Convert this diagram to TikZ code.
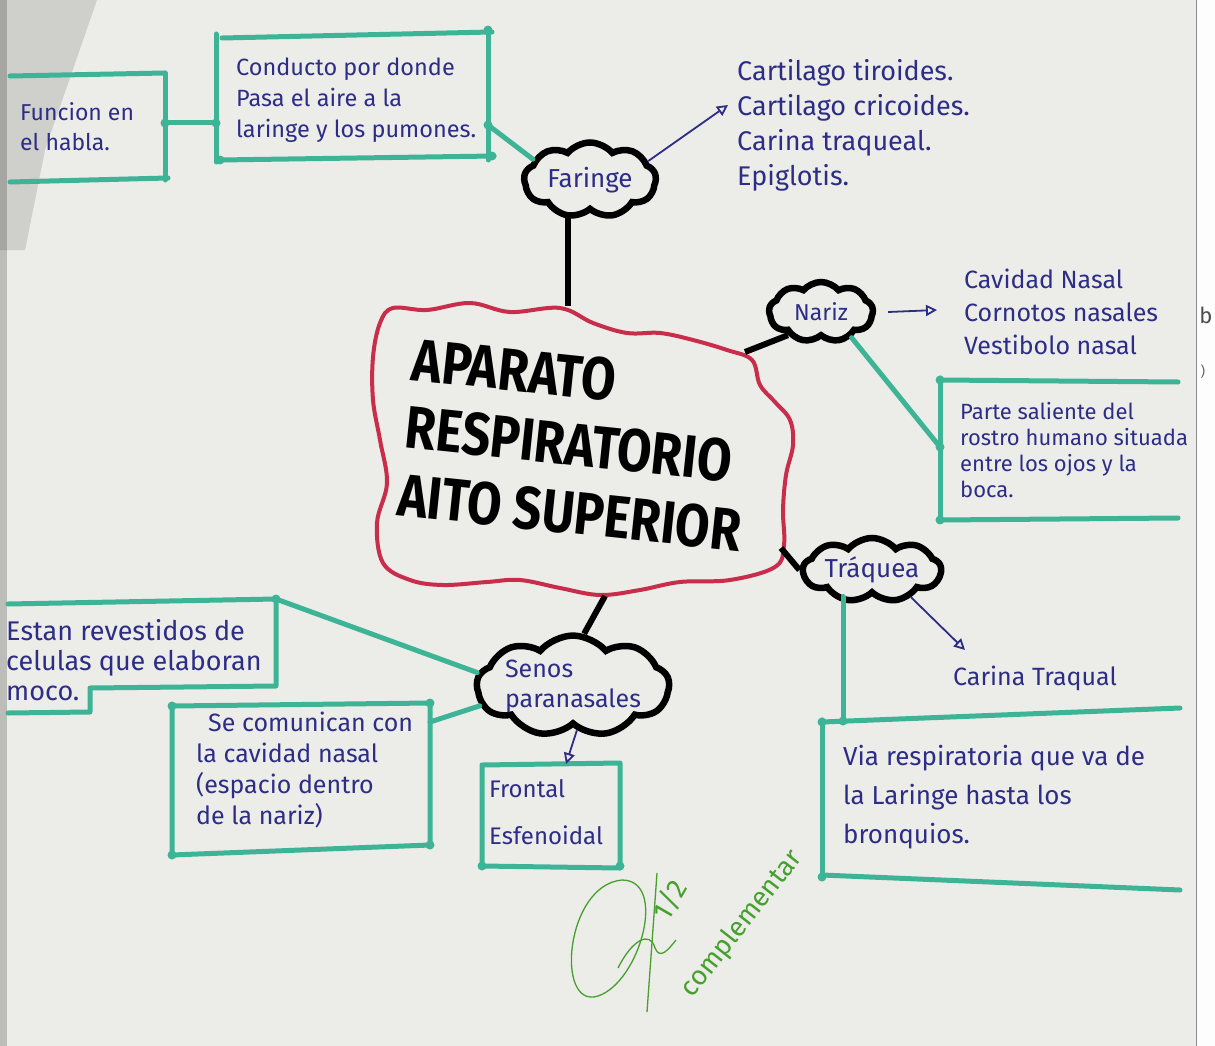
\documentclass[tikz,border=0pt]{standalone}
\usepackage{fontspec}
\usepackage{graphicx}
\setmainfont{Fira Sans}
\usetikzlibrary{shapes.symbols,arrows.meta}
\definecolor{paper}{RGB}{236,236,232}
\definecolor{tealm}{RGB}{62,180,150}
\definecolor{ink}{RGB}{45,45,135}
\definecolor{redm}{RGB}{200,45,75}
\definecolor{greenm}{RGB}{70,160,45}
\begin{document}
\begin{tikzpicture}[x=1pt,y=-1pt,
  tline/.style={draw=tealm,line width=5pt,line cap=round,line join=round},
  tdot/.style={fill=tealm},
  bcloud/.style={cloud,draw=black,line width=6.5pt,cloud puffs=9,cloud puff arc=100,cloud ignores aspect,inner sep=0pt,font=\fontsize{26}{30}\selectfont,text=ink},
  inkarrow/.style={draw=ink,line width=1.8pt,-{Triangle[open,length=11pt,width=11pt]}},
  blk/.style={draw=black,line width=6pt},
  itext/.style={text=ink,align=left,inner sep=0pt},
]
% background
\fill[paper] (0,0) rectangle (1215,1046);
\useasboundingbox (0,0) rectangle (1215,1046);
\fill[black,opacity=0.12] (0,0) -- (97,0) -- (45,150) -- (25,250) -- (0,250) -- cycle;
\fill[black,opacity=0.2] (0,0) rectangle (7,1046);
\fill[white!92!paper] (1196,0) rectangle (1215,1046);
\draw[black!45,line width=1pt] (1196,0) -- (1196,1046);
\node[font=\fontsize{22}{22}\selectfont,text=black!70] (bmark) at (1206,315) {b};
\node[font=\fontsize{14}{14}\selectfont,text=black!60] (pmark) at (1203,372) {)};

% central cloud
\draw[redm,line width=4pt] plot[smooth cycle,tension=0.6] coordinates {
(393,308) (427,310) (470,303) (510,312) (560,308) (593,323) (627,333) (660,333)
(693,340) (727,350) (752,360) (760,385) (775,402) (790,420) (793,445) (786,475)
(783,510) (784,545) (775,567) (730,580) (680,582) (640,590) (600,595) (560,588)
(520,580) (487,582) (443,585) (410,580) (383,563) (377,523) (387,483) (380,440)
(373,400) (373,357) (380,323)};
\node[font=\fontsize{50}{68}\selectfont\bfseries,align=left,rotate=-6,inner sep=0pt] (core) at (577,445)
  {\scalebox{1}[1.2]{APARATO}\\\scalebox{1}[1.2]{RESPIRATORIO}\\\scalebox{1}[1.2]{AITO SUPERIOR}};
\coordinate (cTop) at (568,306);
\coordinate (cNar) at (745,352);
\coordinate (cTra) at (781,548);
\coordinate (cSen) at (605,596);

% black clouds
\node[bcloud,minimum width=132pt,minimum height=75pt] (far) at (590,180) {Faringe};
\node[bcloud,minimum width=104pt,minimum height=60pt,font=\fontsize{23}{26}\selectfont] (nar) at (821,312) {Nariz};
\node[bcloud,minimum width=138pt,minimum height=64pt] (tra) at (872,570) {Tráquea};
\node[bcloud,minimum width=188pt,minimum height=84pt,align=left,font=\fontsize{25}{30}\selectfont] (sen) at (573,686) {Senos\\paranasales};

\draw[blk] (cTop) -- (cTop |- far.south);
\draw[blk] (cNar) -- (nar.215);
\draw[blk] (cTra) -- (tra.180);
\draw[blk] (cSen) -- (sen.78);

% Faringe branch
\coordinate (farTip) at (728,105);
\draw[inkarrow] (far.18) -- (farTip);
\node[itext,anchor=west,font=\fontsize{27}{35}\selectfont] (farlist) at (737,125)
  {Cartilago tiroides.\\Cartilago cricoides.\\Carina traqueal.\\Epiglotis.};

% box A
\draw[tline] (216,34) -- (216,162);
\draw[tline] (222,38) -- (492,32);
\draw[tline] (488,30) -- (488,160);
\draw[tline] (220,160) -- (494,156);
\node[itext,anchor=west,font=\fontsize{23.5}{31}\selectfont] (txtA) at (236,100)
  {Conducto por donde\\Pasa el aire a la\\laringe y los pumones.};
\coordinate (aR) at (488,125);
\draw[tline] (aR) -- (far.160);

% box B
\draw[tline] (10,76) -- (165,73);
\draw[tline] (165,73) -- (165,180);
\draw[tline] (10,182) -- (168,178);
\node[itext,anchor=west,font=\fontsize{23}{30}\selectfont] (txtB) at (20,127)
  {Funcion en\\el habla.};
\coordinate (bB) at (165,123);
\coordinate (bA) at (216,123);
\draw[tline] (bB) -- (bA);

% Nariz branch
\coordinate (narTip) at (937,310);
\draw[inkarrow] ([xshift=12pt]nar.east) -- (narTip);
\node[itext,anchor=west,font=\fontsize{25}{33}\selectfont] (narlist) at (964,312)
  {Cavidad Nasal\\Cornotos nasales\\Vestibolo nasal};
\draw[tline] (940,380) -- (1178,382);
\draw[tline] (940,378) -- (940,520);
\draw[tline] (940,520) -- (1178,518);
\coordinate (cL) at (940,447);
\draw[tline] (nar.-40) -- (cL);
\node[itext,anchor=west,font=\fontsize{22}{26}\selectfont] (txtC) at (960,450)
  {Parte saliente del\\rostro humano situada\\entre los ojos y la\\boca.};

% Traquea branch
\coordinate (traTip) at (965,650);
\draw[inkarrow] (tra.-35) -- (traTip);
\node[itext,font=\fontsize{25}{28}\selectfont] (tralist) at (1035,678) {Carina Traqual};
\draw[tline] (822,722) -- (1180,708);
\draw[tline] (822,720) -- (822,877);
\draw[tline] (822,875) -- (1180,890);
\coordinate (dT) at (843,721);
\draw[tline] (dT |- tra.south) -- (dT);
\node[itext,anchor=west,font=\fontsize{26}{39}\selectfont] (txtD) at (843,797)
  {Via respiratoria que va de\\la Laringe hasta los\\bronquios.};

% Senos branch
\draw[tline] (8,604) -- (276,599) -- (276,686) -- (90,688) -- (90,712) -- (8,713);
\coordinate (eR) at (276,599);
\draw[tline] (sen.172) -- (eR);
\node[itext,anchor=west,font=\fontsize{27}{30}\selectfont] (txtE) at (6,660)
  {Estan revestidos de\\celulas que elaboran\\moco.};
\draw[tline] (172,706) -- (430,703) -- (430,845) -- (172,855) -- cycle;
\coordinate (fR) at (430,722);
\draw[tline] (sen.192) -- (fR);
\node[itext,anchor=west,font=\fontsize{25}{31}\selectfont] (txtF) at (196,770)
  {\hspace*{12pt}Se comunican con\\la cavidad nasal\\(espacio dentro\\de la nariz)};
\draw[tline] (482,765) -- (620,763) -- (620,868) -- (482,866) -- cycle;
\coordinate (gT) at (566,764);
\draw[inkarrow] (sen.-85) -- (gT);
\node[itext,anchor=west,font=\fontsize{24}{47}\selectfont] (txtG) at (489,812)
  {Frontal\\Esfenoidal};

% dots
\foreach \p in {(488,30),(488,125),(492,156),(220,160),(216,123),(165,123),(940,380),(940,447),(940,520),(276,599),(822,722),(843,721),(822,877),(172,706),(430,703),(430,845),(172,855),(482,866),(620,866)}
  \fill[tdot] \p circle (4.5pt);

% green signature
\draw[greenm,line width=1.3pt] (622,880) .. controls (565,885) and (555,1010) .. (598,996) .. controls (640,982) and (668,880) .. (622,880);
\draw[greenm,line width=1.3pt] (657,873) -- (647,1012);
\draw[greenm,line width=1.3pt] (618,968) .. controls (632,940) and (650,930) .. (655,948) .. controls (660,960) and (668,950) .. (676,940);
\node[text=greenm,rotate=60,font=\fontsize{28}{28}\selectfont] (half) at (670,900) {1/2};
\node[text=greenm,rotate=52,font=\fontsize{27}{27}\selectfont] (compl) at (742,924) {complementar};
\end{tikzpicture}
\end{document}
